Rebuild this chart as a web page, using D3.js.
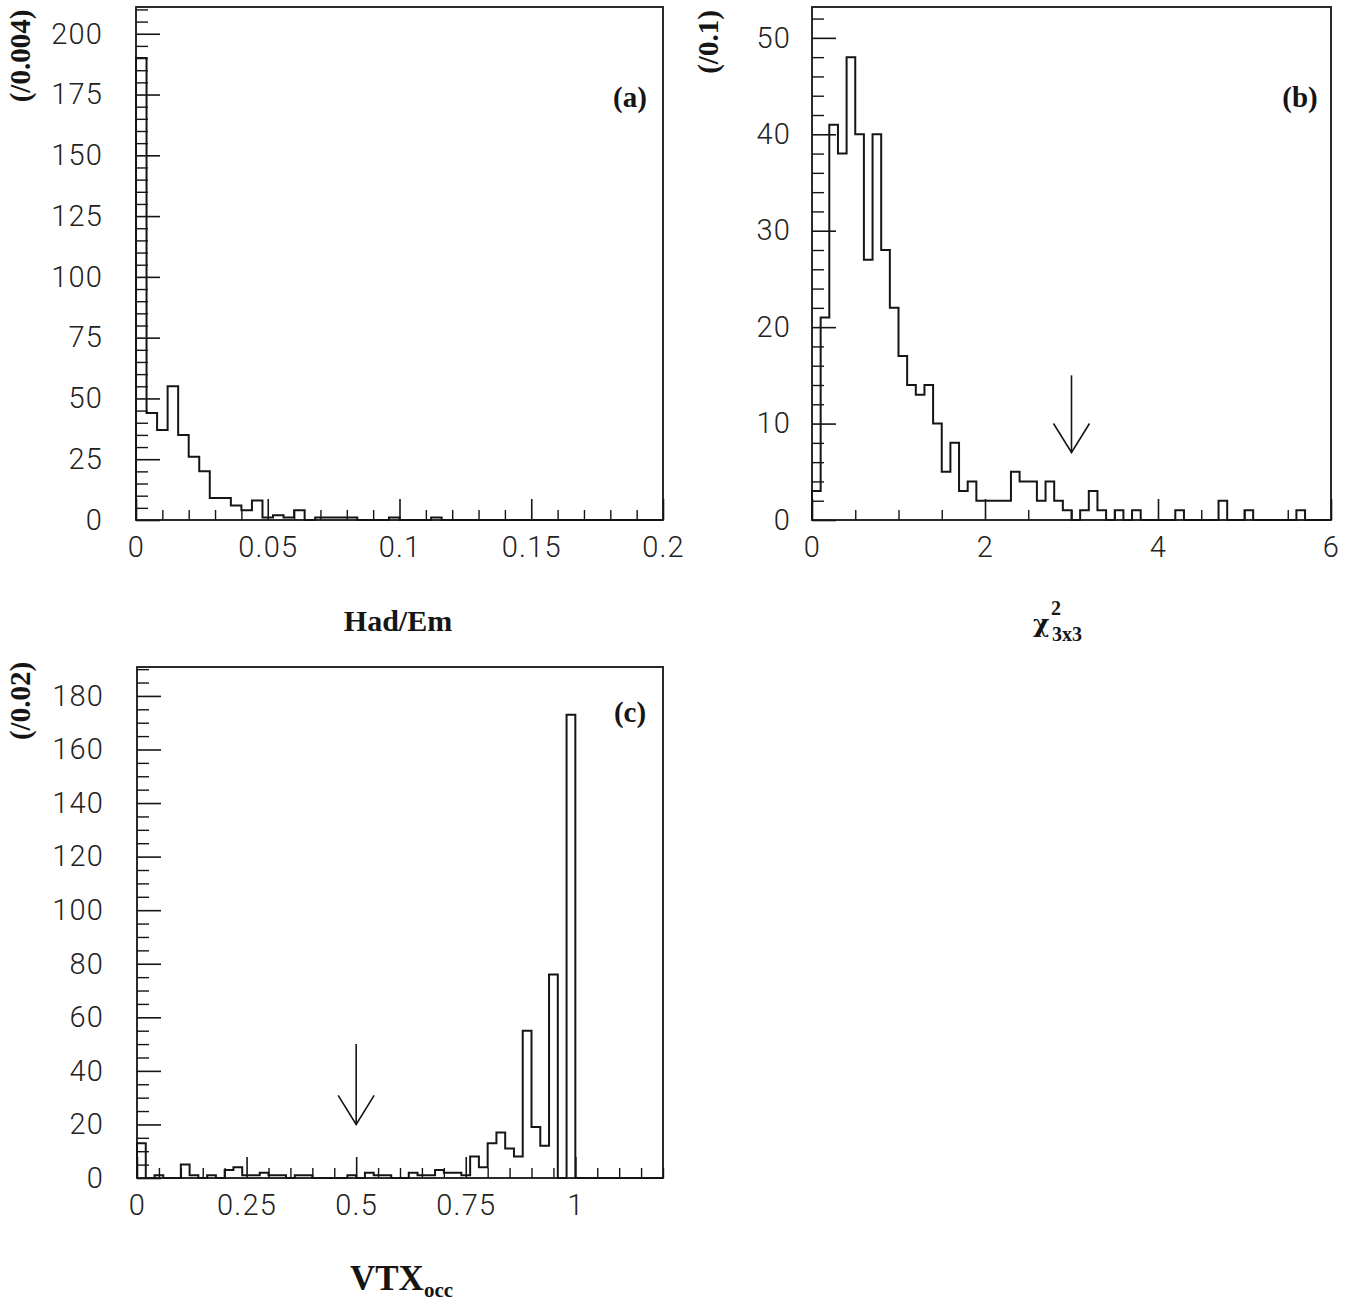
<!DOCTYPE html>
<html><head><meta charset="utf-8">
<script src="https://cdn.jsdelivr.net/npm/d3@7"></script>
<style>body{margin:0;background:#fff}</style>
</head><body>
<svg id="chart" width="1355" height="1303" xmlns="http://www.w3.org/2000/svg"></svg>
<script>
// ---------------- data ----------------
// (a) Had/Em, bins of 0.004 from 0 to 0.2
const hadEmCounts = [190,44,37,55,35,26,20,9,9,6, 4,8,1,2,1,4,0,1,1,1, 1,0,0,0,1,0,0,0,1,0, 0,0,0,0,0,0,0,0,0,0, 0,0,0,0,0,0,0,0,0,0];
// (b) chi2 3x3, bins of 0.1 from 0 to 6
const chiCounts = [3,21,41,38,48,40,27,40,28,22, 17,14,13,14,10,5,8,3,4,2, 2,2,2,5,4,4,2,4,2,1, 0,1,3,1,0,1,0,1,0,0, 0,0,1,0,0,0,0,2,0,0, 1,0,0,0,0,0,1,0,0,0];
// (c) VTX occupancy, bins of 0.02 from 0 to 1.2
const vtxCounts = [13,0,1,0,0,5,1,0,1,0, 3,4,1,1,2,1,1,0,1,1, 0,0,0,0,1,0,2,1,1,0, 0,2,1,1,3,2,2,1,8,4, 13,17,11,8,55,19,12,76,0,173, 0,0,0,0,0,0,0,0,0,0];

const hadEmXTicks = [0, 0.05, 0.1, 0.15, 0.2];
const hadEmYTicks = [0, 25, 50, 75, 100, 125, 150, 175, 200];
const chiXTicks = [0, 2, 4, 6];
const chiYTicks = [0, 10, 20, 30, 40, 50];
const vtxXTicks = [0, 0.25, 0.5, 0.75, 1];
const vtxYTicks = [0, 20, 40, 60, 80, 100, 120, 140, 160, 180];

// cut arrows (x position, arrow top and tip in counts)
const chiCut = [3, 15, 7];
const vtxCut = [0.5, 50, 20];

// ---------------- drawing ----------------
const INK = "#151515";
const svg = d3.select("#chart");
svg.append("rect").attr("width",1355).attr("height",1303).attr("fill","#fff");

const NUM_FONT = "Roboto, 'Liberation Sans', Arial, sans-serif";
const SERIF = "'Liberation Serif', 'Times New Roman', serif";

function styleNums(sel){
  sel.attr("font-family", NUM_FONT).attr("font-weight", 300).attr("font-size", 29)
     .attr("letter-spacing", 1.2).attr("fill", "#222");
}

function drawPanel(p){
  const g = svg.append("g");
  const x = d3.scaleLinear().domain(p.xDomain).range([p.left, p.right]);
  const y = d3.scaleLinear().domain(p.yDomain).range([p.bottom, p.top]);
  const near = (arr, v) => arr.some(t => Math.abs(t - v) < 1e-9);

  // minor y ticks
  const yMinor = d3.range(0, Math.floor(p.yDomain[1] / p.yMinor) + 1).map(i => +(i * p.yMinor).toFixed(6)).filter(v => v <= p.yDomain[1] && !near(p.yTicks, v));
  g.append("g").attr("transform", `translate(${p.left},0)`)
    .call(d3.axisLeft(y).tickValues(yMinor).tickSize(-12).tickFormat(""))
    .call(s => s.select(".domain").remove())
    .attr("color", INK).selectAll("line").attr("stroke-width", 1.4);
  // major y ticks + labels
  const ya = g.append("g").attr("transform", `translate(${p.left},0)`)
    .call(d3.axisLeft(y).tickValues(p.yTicks).tickSize(-24).tickPadding(p.yPad).tickFormat(d => String(d)))
    .call(s => s.select(".domain").remove())
    .attr("color", INK);
  ya.selectAll("line").attr("stroke-width", 1.6);
  styleNums(ya.selectAll("text"));

  // minor x ticks
  const nx = Math.round((p.xDomain[1] - p.xDomain[0]) / p.xMinor);
  const xMinor = d3.range(0, nx + 1).map(i => +(p.xDomain[0] + i * p.xMinor).toFixed(6)).filter(v => !near(p.xTicks, v));
  g.append("g").attr("transform", `translate(0,${p.bottom})`)
    .call(d3.axisBottom(x).tickValues(xMinor).tickSize(-10).tickFormat(""))
    .call(s => s.select(".domain").remove())
    .attr("color", INK).selectAll("line").attr("stroke-width", 1.4);
  const xa = g.append("g").attr("transform", `translate(0,${p.bottom})`)
    .call(d3.axisBottom(x).tickValues(p.xTicks).tickSize(-21).tickPadding(16).tickFormat(d => String(d)))
    .call(s => s.select(".domain").remove())
    .attr("color", INK);
  xa.selectAll("line").attr("stroke-width", 1.6);
  styleNums(xa.selectAll("text"));

  // histogram outline
  const w = p.binWidth;
  const pts = [[p.xDomain[0], 0]];
  p.counts.forEach((c, i) => { pts.push([i * w, c], [(i + 1) * w, c]); });
  pts.push([p.counts.length * w, 0]);
  g.append("path")
    .attr("d", d3.line().x(d => x(d[0])).y(d => y(d[1]))(pts))
    .attr("fill", "none").attr("stroke", INK).attr("stroke-width", 2).attr("stroke-linejoin", "miter");

  // frame
  g.append("rect").attr("x", p.left).attr("y", p.top)
    .attr("width", p.right - p.left).attr("height", p.bottom - p.top)
    .attr("fill", "none").attr("stroke", INK).attr("stroke-width", 1.8);

  // cut arrow
  if (p.cut){
    const cx = x(p.cut[0]), yt = y(p.cut[1]), yb = y(p.cut[2]);
    g.append("line").attr("x1", cx).attr("x2", cx).attr("y1", yt).attr("y2", yb).attr("stroke", INK).attr("stroke-width", 1.6);
    g.append("polyline").attr("points", `${cx-18},${yb-29} ${cx},${yb} ${cx+18},${yb-29}`)
      .attr("fill", "none").attr("stroke", INK).attr("stroke-width", 1.6);
  }

  // panel letter
  g.append("text").attr("x", p.letterX).attr("y", p.letterY).attr("text-anchor", "middle")
    .attr("font-family", SERIF).attr("font-weight", "bold").attr("font-size", 29).attr("fill", INK).text(p.letter);

  // y-axis title (rotated)
  g.append("text").attr("transform", `translate(${p.yTitleX},${p.yTitleY}) rotate(-90)`)
    .attr("text-anchor", "middle").attr("font-family", SERIF).attr("font-weight", "bold").attr("font-size", 29).attr("fill", INK)
    .text(p.yTitle);
  return g;
}

drawPanel({
  counts: hadEmCounts, binWidth: 0.004,
  xDomain: [0, 0.2], yDomain: [0, 211],
  left: 136, right: 663, top: 7, bottom: 520,
  xTicks: hadEmXTicks, xMinor: 0.01,
  yTicks: hadEmYTicks, yMinor: 5, yPad: 33,
  letter: "(a)", letterX: 630, letterY: 107,
  yTitle: "(/0.004)", yTitleX: 30, yTitleY: 56
});

drawPanel({
  counts: chiCounts, binWidth: 0.1,
  xDomain: [0, 6], yDomain: [0, 53.2],
  left: 812, right: 1331, top: 7, bottom: 520,
  xTicks: chiXTicks, xMinor: 0.5,
  yTicks: chiYTicks, yMinor: 2, yPad: 21,
  cut: chiCut,
  letter: "(b)", letterX: 1300, letterY: 107,
  yTitle: "(/0.1)", yTitleX: 718, yTitleY: 42
});

drawPanel({
  counts: vtxCounts, binWidth: 0.02,
  xDomain: [0, 1.2], yDomain: [0, 190.8],
  left: 137, right: 663, top: 667, bottom: 1178,
  xTicks: vtxXTicks, xMinor: 0.05,
  yTicks: vtxYTicks, yMinor: 5, yPad: 33,
  cut: vtxCut,
  letter: "(c)", letterX: 630, letterY: 722,
  yTitle: "(/0.02)", yTitleX: 30, yTitleY: 701
});

// x-axis titles
svg.append("text").attr("x", 398).attr("y", 631).attr("text-anchor", "middle")
  .attr("font-family", SERIF).attr("font-weight", "bold").attr("font-size", 30).attr("fill", INK).text("Had/Em");

const chi = svg.append("g").attr("font-family", SERIF).attr("font-weight", "bold").attr("fill", INK);
chi.append("text").attr("x", 1033).attr("y", 632).attr("font-family", "'DejaVu Serif', " + SERIF).attr("font-size", 25).text("χ");
chi.append("text").attr("x", 1051).attr("y", 615).attr("font-size", 20).text("2");
chi.append("text").attr("x", 1052).attr("y", 641).attr("font-size", 20).text("3x3");

const vtx = svg.append("text").attr("x", 350).attr("y", 1290)
  .attr("font-family", SERIF).attr("font-weight", "bold").attr("fill", INK);
vtx.append("tspan").attr("font-size", 35).text("VTX");
vtx.append("tspan").attr("font-size", 21).attr("dy", 7).text("occ");
</script>
</body></html>
